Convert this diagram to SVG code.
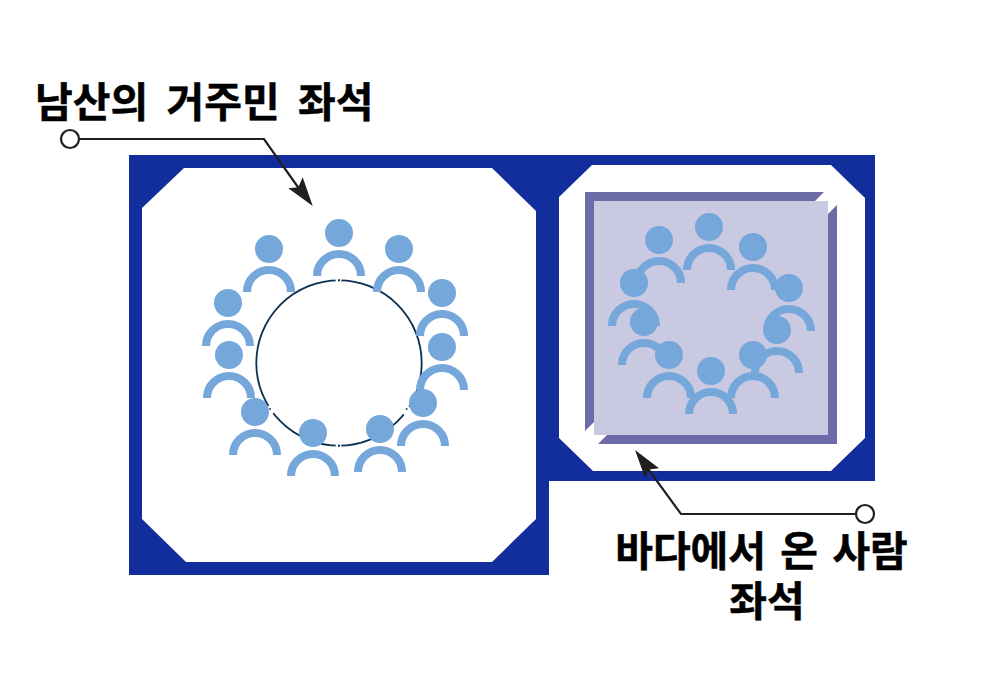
<svg xmlns="http://www.w3.org/2000/svg" xmlns:xlink="http://www.w3.org/1999/xlink" width="983" height="699" viewBox="0 0 983 699">
<style>
.lbl{font-family:"Noto Sans CJK KR","Noto Sans",sans-serif;font-weight:700;font-size:41px;fill:#000;stroke:#000;stroke-width:.5}
.lead{fill:none;stroke:#231f20;stroke-width:2.200}
.dot{fill:#fff;stroke:#231f20;stroke-width:2.200}
.head{fill:#231f20}
.head-c{fill:#75a7db}
.body{fill:none;stroke:#75a7db;stroke-width:8}
.gap{fill:none;stroke:#fff;stroke-width:4}
.tick{fill:#0b2f4e}
</style>
<defs>
<g id="person"><path class="body" d="M-22,43A22,22 0 0 1 22,43"/><circle class="head-c" r="14"/></g>
</defs>
<rect width="983" height="699" fill="#fff"/>
<g id="frame">
<path fill="#112e9c" d="M129,155H875V481H549V575H129Z"/>
<path fill="#fff" d="M142,208L184,168H492L536,211V519L492,562H186L142,519Z"/>
<path fill="#fff" d="M559,197L592,165H831L865,198V438L831,471H593L559,438Z"/>
</g>
<g id="left-room">
<circle cx="339" cy="363" r="82.700" fill="none" stroke="#0b2f4e" stroke-width="1.800"/>
<path class="gap" d="M335.700,280.300H341.300M335.700,445.700H341.300M268,406.200L273.500,413M409.500,407L403.300,414"/>
<rect class="tick" x="338" y="279.300" width="2" height="2"/>
<rect class="tick" x="338" y="444.700" width="2" height="2"/>
<rect class="tick" x="269.200" y="408.200" width="1.600" height="1.600"/>
<rect class="tick" x="405.900" y="408.200" width="1.600" height="1.600"/>
<g id="resident-1"><use xlink:href="#person" href="#person" x="269" y="249"/></g>
<g id="resident-2"><use xlink:href="#person" href="#person" x="339" y="233"/></g>
<g id="resident-3"><use xlink:href="#person" href="#person" x="399" y="249"/></g>
<g id="resident-4"><use xlink:href="#person" href="#person" x="442" y="293"/></g>
<g id="resident-5"><use xlink:href="#person" href="#person" x="442" y="347"/></g>
<g id="resident-6"><use xlink:href="#person" href="#person" x="423" y="403"/></g>
<g id="resident-7"><use xlink:href="#person" href="#person" x="380" y="429"/></g>
<g id="resident-8"><use xlink:href="#person" href="#person" x="313" y="433"/></g>
<g id="resident-9"><use xlink:href="#person" href="#person" x="255" y="412"/></g>
<g id="resident-10"><use xlink:href="#person" href="#person" x="229" y="355"/></g>
<g id="resident-11"><use xlink:href="#person" href="#person" x="228" y="303"/></g>
</g>
<g id="right-room">
<path fill="#6c6ba7" d="M585,192H824L585,431Z"/>
<path fill="#6c6ba7" d="M837,205V444H598Z"/>
<rect x="594" y="201" width="234" height="234" fill="#c9c9e2"/>
<g id="visitor-1"><use xlink:href="#person" href="#person" x="659" y="240"/></g>
<g id="visitor-2"><use xlink:href="#person" href="#person" x="709" y="227"/></g>
<g id="visitor-3"><use xlink:href="#person" href="#person" x="753" y="247"/></g>
<g id="visitor-4"><use xlink:href="#person" href="#person" x="789" y="288"/></g>
<g id="visitor-5"><use xlink:href="#person" href="#person" x="777" y="330"/></g>
<g id="visitor-6"><use xlink:href="#person" href="#person" x="753" y="355"/></g>
<g id="visitor-7"><use xlink:href="#person" href="#person" x="711" y="371"/></g>
<g id="visitor-8"><use xlink:href="#person" href="#person" x="669" y="355"/></g>
<g id="visitor-9"><use xlink:href="#person" href="#person" x="644" y="322"/></g>
<g id="visitor-10"><use xlink:href="#person" href="#person" x="634" y="283"/></g>
</g>
<g id="connectors">
<path class="lead" d="M79,139H264L300,190"/>
<path class="head" d="M312.700,206L288.300,188.300L298.300,187.300L302.700,177.300Z"/>
<circle class="dot" cx="70" cy="139" r="9"/>
<path class="lead" d="M856,514H681L646,466"/>
<path class="head" d="M635,450L659,468.300L649,469.500L645,477.700Z"/>
<circle class="dot" cx="865" cy="514" r="9"/>
</g>
<g id="labels">
<text class="lbl" x="35" y="117" word-spacing="9">남산의 거주민 좌석</text>
<text class="lbl" x="761.500" y="566" text-anchor="middle" word-spacing="5">바다에서 온 사람</text>
<text class="lbl" x="767" y="616" text-anchor="middle">좌석</text>
</g>
</svg>
